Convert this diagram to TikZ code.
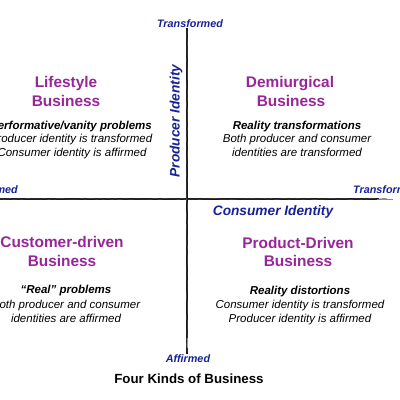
\documentclass[tikz,border=0pt]{standalone}
\usepackage{fontspec}
\setmainfont{Liberation Sans}
\usetikzlibrary{decorations.pathmorphing}
\definecolor{qpurple}{RGB}{152,38,152}
\definecolor{axblue}{RGB}{22,34,150}
\begin{document}
\begin{tikzpicture}[x=1pt,y=-1pt,
  ttl/.style={font=\fontsize{15.4}{19}\selectfont\bfseries, text=qpurple, anchor=base, inner sep=0},
  sub/.style={font=\fontsize{11.5}{14}\selectfont\bfseries\itshape, anchor=base, inner sep=0},
  desc/.style={font=\fontsize{11.5}{14}\selectfont\itshape, anchor=base, inner sep=0},
  axname/.style={font=\fontsize{13.7}{16}\selectfont\bfseries\itshape, text=axblue, inner sep=0},
  axend/.style={font=\fontsize{10.8}{13}\selectfont\bfseries\itshape, text=axblue, inner sep=0, anchor=base},
  axline/.style={line width=2pt, black!90},
  rough/.style={line width=0.5pt, black!70, decorate, decoration={random steps, segment length=3pt, amplitude=0.5pt}},
]
\pgfmathsetseed{7}
\useasboundingbox (0,0) rectangle (400,400);
\fill[white] (0,0) rectangle (400,400);
\clip (0,0) rectangle (400,400);

% axes
\coordinate (vtop) at (187,36);
\coordinate (vbot) at (187,348);
\coordinate (hleft) at (-5,199);
\coordinate (hright) at (393,199);
\draw[axline, black!40, line width=1pt] (vtop) -- ++(0,12);
\draw[axline] ([yshift=8pt]vtop) -- ([yshift=-6pt]vbot);
\draw[axline, black!40, line width=1pt] (vbot) -- ++(0,-10);
\draw[axline] (hleft) -- ([xshift=-14pt]hright);
\draw[axline, black!45, line width=1pt] ([xshift=-16pt]hright) -- (hright);
\draw[rough] ([yshift=6pt]vtop) -- ([yshift=-4pt]vbot);
\draw[rough] (hleft) -- ([xshift=-6pt]hright);

% axis labels
\node[axend] (ptop) at (190,27) {Transformed};
\node[axend] (pbot) at (188,362) {Affirmed};
\node[axend, anchor=base east] (cleft) at (18,193) {Affirmed};
\node[axend, anchor=base west] (cright) at (353,193) {Transformed};
\node[axname, rotate=90] (pname) at (176,121) {Producer Identity};
\node[axname, anchor=base] (cname) at (273,215) {Consumer Identity};

% Lifestyle (top-left)
\node[ttl] (lt1) at (66,87) {Lifestyle};
\node[ttl] (lt2) at (66,106) {Business};
\node[sub] (ls) at (71,129) {Performative/vanity problems};
\node[desc] (ld1) at (71,142) {Producer identity is transformed};
\node[desc] (ld2) at (72,156) {Consumer identity is affirmed};

% Demiurgical (top-right)
\node[ttl] (dt1) at (290,87) {Demiurgical};
\node[ttl] (dt2) at (291,106) {Business};
\node[sub] (ds) at (297,129) {Reality transformations};
\node[desc] (dd1) at (297,142) {Both producer and consumer};
\node[desc] (dd2) at (297,156) {identities are transformed};

% Customer-driven (bottom-left)
\node[ttl] (ct1) at (62,247) {Customer-driven};
\node[ttl] (ct2) at (62,266) {Business};
\node[sub] (cs) at (66,293) {“Real” problems};
\node[desc] (cd1) at (66,308) {Both producer and consumer};
\node[desc] (cd2) at (66,322) {identities are affirmed};

% Product-Driven (bottom-right)
\node[ttl] (pt1) at (298,248) {Product-Driven};
\node[ttl] (pt2) at (298,266) {Business};
\node[sub] (ps) at (300,294) {Reality distortions};
\node[desc] (pd1) at (300,308) {Consumer identity is transformed};
\node[desc] (pd2) at (300,322) {Producer identity is affirmed};

% caption
\node[font=\fontsize{13.3}{16}\selectfont\bfseries, anchor=base, inner sep=0] (cap) at (189,383) {Four Kinds of Business};
\end{tikzpicture}
\end{document}
